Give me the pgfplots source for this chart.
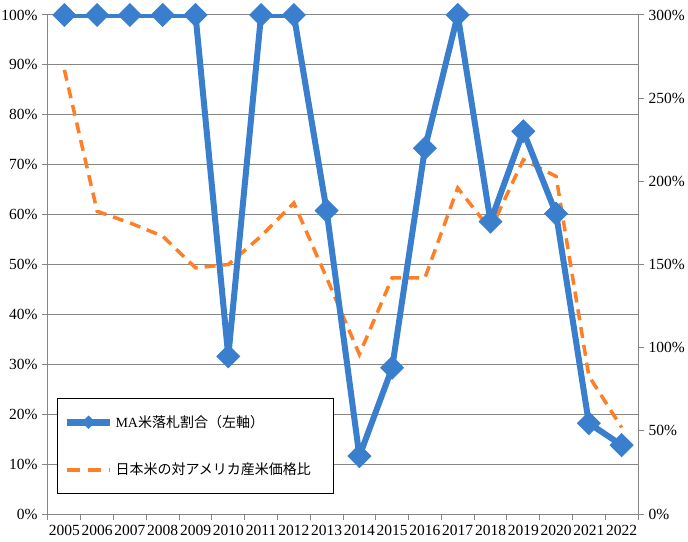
\documentclass[border=0pt]{standalone}
\usepackage{pgfplots}
\pgfplotsset{compat=1.18}
\usepackage{fontspec}
\setmainfont{Liberation Serif}
\newfontfamily\jp{Noto Sans CJK JP}

\definecolor{mablue}{RGB}{58,127,206}
\definecolor{jporange}{RGB}{255,127,39}
\definecolor{axgray}{RGB}{134,134,134}

\pgfplotstableread{
year ma
0 100
1 100
2 100
3 100
4 100
5 31.6
6 100
7 100
8 60.8
9 11.6
10 29.3
11 73.3
12 100
13 58.6
14 76.7
15 60.2
16 18.2
17 13.8
}\maratio

\pgfplotstableread{
year ratio
0 267
1 182
2 175
3 167
4 148
5 150
6 167
7 187
8 142
9 96
10 142
11 142
12 196
13 171
14 213
15 203
16 83
17 52
}\priceratio

\pgfplotsset{
  base/.style={
    scale only axis, width=590pt, height=499pt,
    at={(48pt,27pt)}, anchor=south west,
    xmin=-0.5, xmax=17.5,
    tick label style={font=\fontsize{15.5}{18}\selectfont},
  },
}

\begin{document}
\begin{tikzpicture}
\path[use as bounding box] (0,0) rectangle (688pt,541pt);

% left axis, x axis and grid
\begin{axis}[base,
  ymin=0, ymax=100,
  axis x line*=bottom, axis y line*=left,
  axis line style={axgray, line width=1pt},
  ytick={0,10,...,100},
  yticklabels={0\%,10\%,20\%,30\%,40\%,50\%,60\%,70\%,80\%,90\%,100\%},
  ymajorgrids, major grid style={axgray, line width=1pt},
  tick align=outside, major tick length=6pt,
  y tick style={axgray, line width=1pt},
  xtick={0,...,17},
  xticklabels={2005,2006,2007,2008,2009,2010,2011,2012,2013,2014,2015,2016,2017,2018,2019,2020,2021,2022},
  x tick style={draw=none},
  minor xtick={-0.5,0.5,...,17.5},
  minor tick length=6pt,
  minor x tick style={axgray, line width=1pt, draw=axgray},
  xticklabel style={inner xsep=0pt, yshift=-2pt},
  yticklabel style={xshift=-1pt},
]
\addplot[draw=none, forget plot] coordinates {(0,0)};
\end{axis}

% right axis with the price ratio
\begin{axis}[base,
  ymin=0, ymax=300,
  axis y line*=right, axis x line=none,
  axis line style={axgray, line width=1pt},
  ytick={0,50,...,300},
  yticklabels={0\%,50\%,100\%,150\%,200\%,250\%,300\%},
  tick align=outside, major tick length=6pt,
  y tick style={axgray, line width=1pt},
  yticklabel style={xshift=1pt},
]
\addplot[jporange, line width=3.5pt, dash pattern=on 11pt off 7pt] table[x=year, y=ratio] {\priceratio};
\end{axis}

% MA rice line and legend
\begin{axis}[base,
  ymin=0, ymax=100,
  hide axis,
  legend cell align=left,
  legend style={at={(0.0153,0.2325)}, anchor=north west, draw=black, line width=1pt,
    fill=white, inner xsep=6pt, inner ysep=15pt, row sep=30pt,
    font=\fontsize{14}{16}\selectfont},
  legend image code/.code={\draw[mark repeat=2, mark phase=2] plot coordinates {(0pt,0pt) (21.5pt,0pt) (43pt,0pt)};},
]
\addplot[mablue, line width=6pt, mark=square*, mark size=8pt,
  mark options={rotate=45, line width=1pt, solid}, forget plot] table[x=year, y=ma] {\maratio};
\addlegendimage{mablue, line width=7pt, mark=square*, mark size=4.5pt, mark options={rotate=45, line width=0.5pt}}
\addlegendentry{\makebox[210pt][l]{MA{\jp 米落札割合（左軸）}}}
\addlegendimage{jporange, line width=4pt, dash pattern=on 13pt off 8pt}
\addlegendentry{\makebox[210pt][l]{\jp 日本米の対アメリカ産米価格比}}
\end{axis}
\end{tikzpicture}
\end{document}
